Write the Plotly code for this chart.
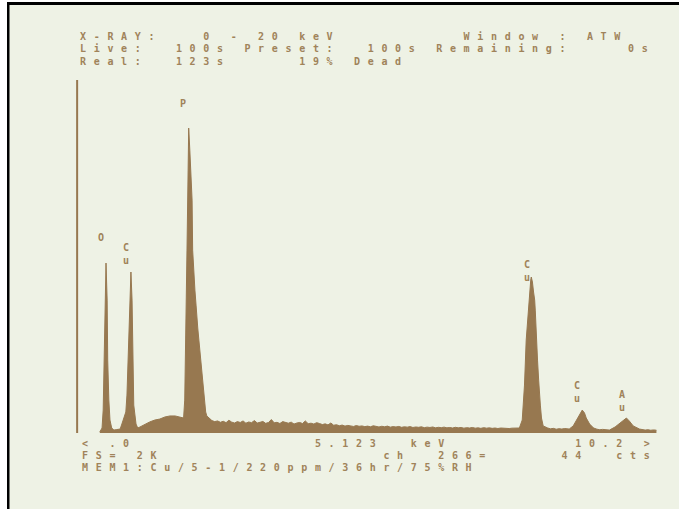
import plotly.graph_objects as go

# ---------------- data ----------------
energy_kev = [
    0.42, 0.46, 0.48, 0.49, 0.51, 0.53, 0.55, 0.56, 0.58, 0.60, 0.63, 0.67, 0.72, 0.78,
    0.81, 0.85, 0.88, 0.90, 0.92, 0.93, 0.95, 0.97, 0.99, 1.01, 1.02, 1.06, 1.09,
    1.13, 1.22, 1.30, 1.39, 1.48, 1.57, 1.66, 1.75, 1.83, 1.90,
    1.92, 1.94, 1.96, 1.98, 1.99, 2.01, 2.03, 2.05, 2.06, 2.08, 2.10, 2.12, 2.13, 2.15,
    2.17, 2.19, 2.20, 2.22, 2.24, 2.26, 2.28, 2.29, 2.31, 2.35,
    2.40, 2.45, 2.50, 2.55, 2.60, 2.65, 2.70, 2.75, 2.80, 2.85, 2.90, 2.95, 3.00, 3.05,
    3.10, 3.15, 3.20, 3.25, 3.30, 3.35, 3.40, 3.45, 3.50, 3.55, 3.60, 3.65, 3.70, 3.75,
    3.80, 3.85, 3.90, 3.95, 4.00, 4.05, 4.10, 4.15, 4.20, 4.25, 4.30, 4.35, 4.40, 4.45,
    4.50, 4.55, 4.60, 4.65, 4.70, 4.75, 4.80, 4.85, 4.90, 4.95, 5.00, 5.05, 5.10, 5.15,
    5.20, 5.25, 5.30, 5.35, 5.40, 5.45, 5.50, 5.55, 5.60, 5.65, 5.70, 5.75, 5.80, 5.85,
    5.90, 5.95, 6.00, 6.05, 6.10, 6.15, 6.20, 6.25, 6.30, 6.35, 6.40, 6.45, 6.50, 6.55,
    6.60, 6.65, 6.70, 6.75, 6.80, 6.85, 6.90, 6.95, 7.00, 7.05, 7.10, 7.15, 7.20, 7.25,
    7.30, 7.35, 7.40, 7.45, 7.50, 7.55, 7.60, 7.65, 7.70, 7.75, 7.80,
    7.83, 7.88, 7.92, 7.95, 7.99, 8.01, 8.03, 8.04, 8.06, 8.08, 8.10, 8.11, 8.13, 8.15,
    8.17, 8.18, 8.20, 8.22, 8.25, 8.33, 8.38, 8.43, 8.48, 8.53, 8.58, 8.63,
    8.71, 8.78, 8.84, 8.89, 8.92, 8.94, 8.98, 9.01, 9.07, 9.14,
    9.20, 9.25, 9.30, 9.35, 9.42, 9.52, 9.59, 9.67, 9.72, 9.77, 9.84, 9.95,
    10.00, 10.05, 10.10, 10.15, 10.20, 10.25,
]
counts = [
    6, 29, 133, 307, 655, 986, 771, 423, 191, 75, 29, 17, 20, 23,
    52, 87, 122, 220, 423, 655, 858, 934, 771, 423, 162, 52, 29,
    35, 52, 64, 75, 81, 93, 99, 99, 93, 87,
    191, 539, 1061, 1525, 1769, 1641, 1496, 1351, 1061, 916, 829, 742, 667, 609,
    539, 470, 412, 354, 296, 220, 162, 122, 99, 87,
    72, 66, 70, 62, 68, 60, 74, 63, 58, 66, 61, 70, 57, 64,
    60, 72, 58, 62, 67, 56, 61, 78, 59, 62, 55, 66, 60, 57,
    63, 52, 58, 61, 55, 70, 54, 57, 52, 60, 55, 49, 53, 47,
    58, 45, 48, 42, 46, 40, 44, 41, 38, 43, 39, 41, 37, 40,
    36, 42, 38, 35, 39, 36, 40, 34, 37, 35, 38, 33, 36, 34,
    37, 32, 35, 33, 36, 31, 34, 32, 35, 30, 33, 31, 34, 30,
    32, 29, 33, 30, 32, 28, 31, 29, 32, 28, 30, 27, 31, 28,
    30, 27, 29, 26, 29, 27, 28, 26, 28, 30, 29,
    29, 75, 278, 539, 742, 829, 887, 905, 876, 818, 771, 713, 539, 423,
    307, 238, 162, 87, 41, 29, 24, 27, 22, 25, 23, 26,
    23, 41, 75, 104, 128, 133, 116, 87, 52, 29,
    22, 19, 21, 18, 17, 35, 52, 75, 87, 70, 41, 23,
    19, 17, 19, 16, 18, 16,
]
full_scale_counts = 2048          # FS= 2K
zero_marker_kev = [0.02, 0.02]    # off-scale zero (strobe) line
zero_marker_counts = [0, 2048]

header_lines = [
    "X-RAY:   0 - 20 keV         Window : ATW",
    "Live:  100s Preset:  100s Remaining:    0s",
    "Real:  123s     19% Dead",
]
footer_lines = [
    "< .0             5.123  keV         10.2 >",
    "FS= 2K                ch  266=     44  cts",
    "MEM1:Cu/5-1/220ppm/36hr/75%RH",
]
peak_labels = ["O", "C<br>u", "P", "C<br>u", "C<br>u", "A<br>u"]

# ---------------- layout ----------------
W, H = 679, 509
L, R, T, B = 76, 22, 80, 76
PW, PH = W - L - R, H - T - B

def ax(xp):
    return (xp - L) / PW

def ay(yp):
    return (H - B - yp) / PH

BG = "#eef2e5"
BROWN = "#977850"
TEXT = "#a0835a"
FONT = "DejaVu Sans Mono"
GLYPH = 10            # glyph size of the screen text
PITCH = 13.7          # character pitch of the screen text
LS = PITCH - 0.602 * GLYPH
LINE = 12.0           # line spacing of the screen text

fig = go.Figure()
fig.add_trace(go.Scatter(
    x=energy_kev, y=counts, mode="lines", fill="tozeroy",
    line=dict(color=BROWN, width=1), fillcolor=BROWN, hoverinfo="skip",
))
fig.add_trace(go.Scatter(
    x=zero_marker_kev, y=zero_marker_counts, mode="lines",
    line=dict(color=BROWN, width=2), hoverinfo="skip",
))

def spaced(s):
    s = s.replace(" ", "\u00a0")
    return f'<span style="letter-spacing:{LS:.2f}px">{s}</span>'

annotations = []
for i, line in enumerate(header_lines):
    annotations.append(dict(
        text=spaced(line), x=ax(78), y=ay(37 + i * LINE), xref="paper", yref="paper",
        xanchor="left", yanchor="middle", showarrow=False,
        font=dict(family=FONT, size=GLYPH, color=TEXT, weight="bold"),
    ))
for i, line in enumerate(footer_lines):
    annotations.append(dict(
        text=spaced(line), x=ax(80), y=ay(443 + i * LINE), xref="paper", yref="paper",
        xanchor="left", yanchor="middle", showarrow=False,
        font=dict(family=FONT, size=GLYPH, color=TEXT, weight="bold"),
    ))

label_pos = [(101, 237), (126, 254), (183, 103), (527, 271), (577, 392), (622, 401)]
for txt, (xp, yp) in zip(peak_labels, label_pos):
    annotations.append(dict(
        text=txt, x=ax(xp), y=ay(yp), xref="paper", yref="paper",
        xanchor="center", yanchor="middle", showarrow=False,
        font=dict(family=FONT, size=10, color=TEXT, weight="bold"),
    ))

shapes = [
    dict(type="rect", xref="paper", yref="paper", x0=ax(0), x1=ax(7), y0=ay(H), y1=ay(0),
         fillcolor="white", line=dict(width=0), layer="above"),
    dict(type="rect", xref="paper", yref="paper", x0=ax(0), x1=ax(W), y0=ay(2), y1=ay(0),
         fillcolor="white", line=dict(width=0), layer="above"),
    dict(type="rect", xref="paper", yref="paper", x0=ax(7), x1=ax(9.5), y0=ay(H), y1=ay(2),
         fillcolor="black", line=dict(width=0), layer="above"),
    dict(type="rect", xref="paper", yref="paper", x0=ax(7), x1=ax(W), y0=ay(5), y1=ay(2),
         fillcolor="black", line=dict(width=0), layer="above"),
]

fig.update_layout(
    width=W, height=H, margin=dict(l=L, r=R, t=T, b=B),
    paper_bgcolor=BG, plot_bgcolor=BG, showlegend=False,
    xaxis=dict(range=[0, 10.26], visible=False),
    yaxis=dict(range=[0, full_scale_counts], visible=False),
    annotations=annotations, shapes=shapes,
)
fig.write_html("out.html", config={"displayModeBar": False})

# remove the browser's default page margin so the figure sits at the window's corner
with open("out.html", encoding="utf-8") as f:
    html = f.read()
html = html.replace("<head>", "<head><style>html,body{margin:0;padding:0;overflow:hidden;}</style>", 1)
with open("out.html", "w", encoding="utf-8") as f:
    f.write(html)
